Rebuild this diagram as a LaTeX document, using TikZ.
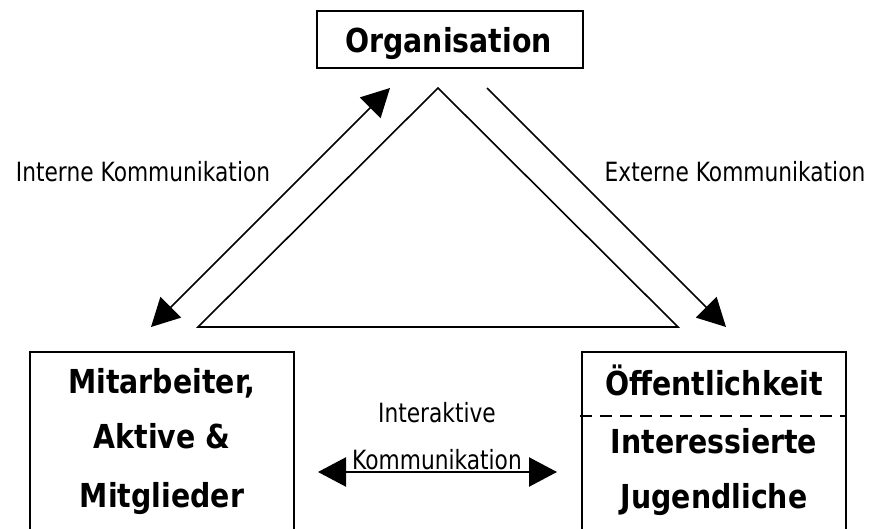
\documentclass[tikz,border=0pt]{standalone}
\usepackage{fontspec}
\usetikzlibrary{arrows.meta}
\newfontfamily\diafont[FakeStretch=0.82]{DejaVu Sans}
\newfontfamily\diabold[FakeStretch=0.86]{DejaVu Sans Bold}
\tikzset{
  box/.style={draw, line width=2pt, minimum width=264pt, inner sep=0pt},
  boxtext/.style={font=\diabold\fontsize{33}{36}\selectfont, anchor=base, inner sep=0pt},
  label/.style={font=\diafont\fontsize{26.5}{30}\selectfont, anchor=base, inner sep=0pt},
  flow/.style={line width=1.6pt},
  bigtip/.style={-{Triangle[length=28pt,width=29pt]}},
  bigtips/.style={{Triangle[length=28pt,width=29pt]}-{Triangle[length=28pt,width=29pt]}},
}
\begin{document}
\begin{tikzpicture}[x=1pt,y=-1pt]
  \useasboundingbox (0,0) rectangle (870,529);
  \clip (0,0) rectangle (870,529);

  % the three parties
  \node[box, minimum width=266pt, minimum height=57pt] (org) at (450,39.5) {};
  \node[boxtext] at (448.5,53) {Organisation};

  \node[box, minimum height=190pt] (staff) at (162,447) {};
  \node[boxtext] at (162,393) {Mitarbeiter,};
  \node[boxtext] at (162,448) {Aktive \&};
  \node[boxtext] at (162,507) {Mitglieder};

  \node[box, minimum height=190pt] (public) at (714,447) {};
  \node[boxtext] at (714,395) {Öffentlichkeit};
  \node[boxtext] at (714,453) {Interessierte};
  \node[boxtext] at (714,508) {Jugendliche};
  \coordinate (dashL) at (580,416);
  \coordinate (dashR) at (846,416);
  \draw[line width=1.5pt, dash pattern=on 12pt off 8pt] (dashL) -- (dashR);

  % central triangle
  \coordinate (apex) at (438,88);
  \coordinate (baseL) at (198,327);
  \coordinate (baseR) at (678,327);
  \draw[flow, line join=miter] (apex) -- (baseR) -- (baseL) -- cycle;

  % connectors
  \coordinate (inA) at (151,327);
  \coordinate (inB) at (390,88);
  \coordinate (exA) at (487,88);
  \coordinate (exB) at (726,327);
  \coordinate (iaA) at (318,472);
  \coordinate (iaB) at (557,472);
  \draw[flow, bigtips] (inA) -- (inB);
  \draw[flow, bigtip] (exA) -- (exB);
  \draw[flow, line width=2.4pt, bigtips] (iaA) -- (iaB);

  % labels
  \node[label] (intern) at (143,182) {Interne Kommunikation};
  \node[label] (extern) at (735,182) {Externe Kommunikation};
  \node[label] (inter1) at (437,422) {Interaktive};
  \node[label] (inter2) at (437,469) {Kommunikation};
\end{tikzpicture}
\end{document}
